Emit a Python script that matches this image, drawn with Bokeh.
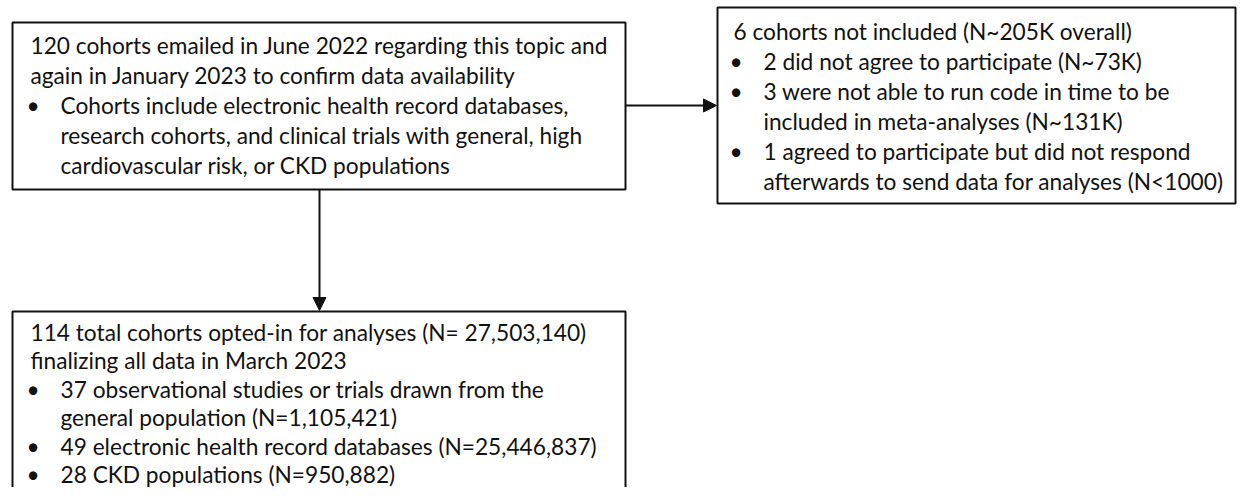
from bokeh.plotting import figure
from bokeh.models import Range1d, Arrow, NormalHead, ColumnDataSource
from bokeh.core.properties import value
from bokeh.embed import file_html
from bokeh.resources import INLINE

# ---- content ----
box1_header = ["120 cohorts emailed in June 2022 regarding this topic and",
               "again in January 2023 to confirm data availability"]
box1_bullets = [["Cohorts include electronic health record databases,",
                 "research cohorts, and clinical trials with general, high",
                 "cardiovascular risk, or CKD populations"]]

box2_header = ["6 cohorts not included (N~205K overall)"]
box2_bullets = [["2 did not agree to participate (N~73K)"],
                ["3 were not able to run code in time to be",
                 "included in meta-analyses (N~131K)"],
                ["1 agreed to participate but did not respond",
                 "afterwards to send data for analyses (N<1000)"]]

box3_header = ["114 total cohorts opted-in for analyses (N= 27,503,140)",
               "finalizing all data in March 2023"]
box3_bullets = [["37 observational studies or trials drawn from the",
                 "general population (N=1,105,421)"],
                ["49 electronic health record databases (N=25,446,837)"],
                ["28 CKD populations (N=950,882)"]]

FONT = "Lato"
FSIZE = "22.7px"
INK = "#111111"
BASE_SHIFT = -9  # compensate renderer baseline offset

W, H = 1237, 487
p = figure(width=W, height=H, x_range=Range1d(0, W), y_range=Range1d(H, 0),
           output_backend="svg", toolbar_location=None,
           x_axis_location=None, y_axis_location=None, min_border=0)
p.grid.visible = False
p.outline_line_color = None
p.background_fill_color = "white"
p.border_fill_color = "white"

# boxes (left, right, top, bottom)
boxes = dict(left=[12, 717, 12], right=[625, 1235, 625], top=[22, 7, 311], bottom=[189, 203, 530])
p.quad(source=ColumnDataSource(boxes), left="left", right="right", top="top", bottom="bottom",
       fill_color=None, line_color=INK, line_width=2)

xs, ys, txt = [], [], []
bx, by, btxt = [], [], []

def layout(header, bullets, left, first_base, line_h=29.8, pad=18, indent=48):
    y = first_base + BASE_SHIFT
    for line in header:
        xs.append(left + pad); ys.append(y); txt.append(line)
        y += line_h
    for group in bullets:
        bx.append(left + pad - 4); by.append(y); btxt.append("\u2022")
        for line in group:
            xs.append(left + indent); ys.append(y); txt.append(line)
            y += line_h

layout(box1_header, box1_bullets, 12, 54, line_h=30)
layout(box2_header, box2_bullets, 717, 40, line_h=30, pad=16, indent=46)
layout(box3_header, box3_bullets, 12, 341, line_h=28.4)

p.text(x=xs, y=ys, text=txt, text_font=value(FONT), text_font_size=FSIZE,
       text_color=INK, text_baseline="alphabetic", text_align="left")
p.text(x=bx, y=by, text=btxt, text_font=value(FONT), text_font_size=FSIZE,
       text_color=INK, text_baseline="alphabetic", text_align="left")

# arrows
p.add_layout(Arrow(end=NormalHead(size=13, fill_color=INK, line_color=INK),
                   x_start=625, y_start=105, x_end=716, y_end=105,
                   line_color=INK, line_width=2))
p.add_layout(Arrow(end=NormalHead(size=13, fill_color=INK, line_color=INK),
                   x_start=319, y_start=189, x_end=319, y_end=310,
                   line_color=INK, line_width=2))

open("out.html", "w").write(file_html(p, INLINE))
